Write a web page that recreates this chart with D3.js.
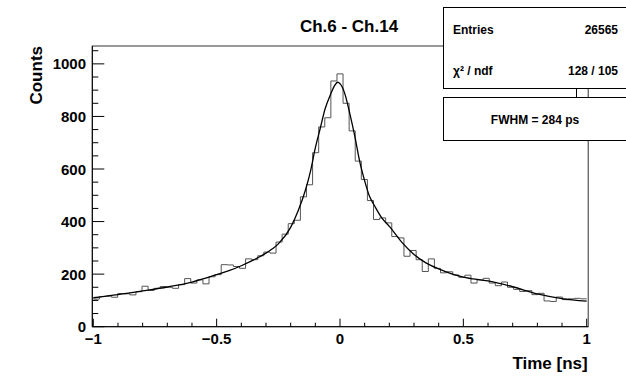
<!DOCTYPE html>
<html lang="en">
    <head>
        <meta charset="utf-8">
        <title>Ch.6 - Ch.14</title>
        <script src="https://d3js.org/d3.v7.min.js"></script>
        <style>
          body { margin: 0; background: #fff; }
          text { font-family: "Liberation Sans", Arial, sans-serif; font-weight: bold; fill: #000; }
        </style>
    </head>
    <body>
        <script type="text/javascript">
          // histogram: 81 bins between -1 and 1 ns, counts
          var binLo = -1
          var binHi = 1
          var counts = [
            105, 115, 116, 112, 126, 125, 121, 133, 154, 138,
            146, 153, 150, 146, 160, 183, 166, 178, 163, 190,
            198, 236, 235, 229, 222, 258, 255, 270, 284, 280,
            322, 352, 392, 405, 494, 540, 662, 760, 795, 935,
            962, 850, 745, 630, 560, 480, 408, 414, 395, 343,
            338, 268, 290, 255, 210, 258, 222, 205, 209, 197,
            188, 196, 166, 178, 184, 166, 156, 170, 150, 142,
            134, 137, 122, 127, 98, 96, 113, 103, 106, 108,
            106
          ]

          // fit curve, sampled by eye
          var fitX = [-1, -0.9, -0.8, -0.7, -0.6, -0.5, -0.45, -0.4, -0.35, -0.3, -0.25, -0.2,
                      -0.17, -0.14, -0.12, -0.1, -0.08, -0.06, -0.04, -0.02, -0.01, 0, 0.01,
                      0.02, 0.04, 0.06, 0.08, 0.1, 0.12, 0.14, 0.17, 0.2, 0.25, 0.3, 0.35,
                      0.4, 0.45, 0.5, 0.6, 0.7, 0.8, 0.9, 1]
          var fitY = [110, 122, 136, 151, 170, 198, 213, 232, 254, 280, 315, 378,
                      440, 520, 590, 680, 755, 830, 880, 920, 930, 925, 910,
                      885, 810, 725, 628, 555, 495, 460, 413, 382, 322, 275, 242,
                      220, 202, 189, 174, 152, 125, 107, 97]

          var xTicks = [-1, -0.5, 0, 0.5, 1]
          var yTicks = [0, 200, 400, 600, 800, 1000]

          var statsRows = [["Entries", "26565"], ["\u03c7\u00b2 / ndf", "128 / 105"]]
          var fwhmText = "FWHM = 284 ps"

          var w = 626
          var h = 376
          // plot frame in pixels
          var fL = 93.3, fR = 586.7, fT = 46, fB = 326.7

          var svg = d3.select("body").append("svg")
            .attr("width", w)
            .attr("height", h)

          var x = d3.scaleLinear().domain([binLo, binHi]).range([fL, fR])
          var y = d3.scaleLinear().domain([0, 1068]).range([fB, fT])

          // frame
          svg.append("rect")
            .attr("x", fL - 1).attr("y", fT)
            .attr("width", fR - fL + 2.5).attr("height", fB - fT)
            .attr("fill", "none").attr("stroke", "#333").attr("stroke-width", 1)

          // histogram outline
          var bw = (binHi - binLo) / counts.length
          var p = d3.path()
          counts.forEach(function (c, i) {
            var x0 = x(binLo + i * bw), x1 = x(binLo + (i + 1) * bw)
            if (i == 0) p.moveTo(x0, y(c))
            else p.lineTo(x0, y(c))
            p.lineTo(x1, y(c))
          })
          svg.append("path")
            .attr("d", p.toString())
            .attr("fill", "none").attr("stroke", "#555").attr("stroke-width", 1)

          // fit
          var line = d3.line()
            .x(function (d) { return x(d[0]) })
            .y(function (d) { return y(d[1]) })
            .curve(d3.curveMonotoneX)
          svg.append("path")
            .attr("d", line(d3.zip(fitX, fitY)))
            .attr("fill", "none").attr("stroke", "#000").attr("stroke-width", 1.3)

          // x axis (ticks point inward, like ROOT)
          var xAxis = svg.append("g")
          xAxis.append("line")
            .attr("x1", fL - 1).attr("x2", fR + 1.5)
            .attr("y1", fB).attr("y2", fB)
            .attr("stroke", "#000")
          d3.range(-1, 1.0001, 0.1).forEach(function (t) {
            var major = Math.abs(t * 2 - Math.round(t * 2)) < 1e-6
            xAxis.append("line")
              .attr("x1", x(t)).attr("x2", x(t))
              .attr("y1", fB).attr("y2", fB - (major ? 8 : 4))
              .attr("stroke", "#000")
          })
          xAxis.selectAll("text.xl").data(xTicks).enter().append("text")
            .attr("x", function (d) { return x(d) })
            .attr("y", 344)
            .attr("text-anchor", "middle")
            .attr("font-size", 15)
            .text(function (d) { return d3.format("")(d) })

          // y axis
          var yAxis = svg.append("g")
          yAxis.append("line")
            .attr("x1", fL - 1).attr("x2", fL - 1)
            .attr("y1", fT).attr("y2", fB)
            .attr("stroke", "#000")
          d3.range(0, 1051, 50).forEach(function (t) {
            var major = t % 200 == 0
            yAxis.append("line")
              .attr("x1", fL - 1).attr("x2", fL - 1 + (major ? 12 : 6))
              .attr("y1", y(t)).attr("y2", y(t))
              .attr("stroke", "#000")
          })
          yAxis.selectAll("text.yl").data(yTicks).enter().append("text")
            .attr("x", 86)
            .attr("y", function (d) { return y(d) + 5.5 })
            .attr("text-anchor", "end")
            .attr("font-size", 15)
            .text(function (d) { return d })

          // axis titles
          svg.append("text")
            .attr("transform", "translate(42," + fT + ") rotate(-90)")
            .attr("text-anchor", "end")
            .attr("font-size", 17)
            .text("Counts")
          svg.append("text")
            .attr("x", fR + 1).attr("y", 369)
            .attr("text-anchor", "end")
            .attr("font-size", 17)
            .text("Time [ns]")

          // title
          svg.append("text")
            .attr("x", 349).attr("y", 32)
            .attr("text-anchor", "middle")
            .attr("font-size", 17)
            .text("Ch.6 - Ch.14")

          // stats box
          svg.append("rect")
            .attr("x", 443.5).attr("y", 7.5).attr("width", 200).attr("height", 81)
            .attr("fill", "#fff").attr("stroke", "#000")
          statsRows.forEach(function (r, i) {
            var ty = 34 + i * 41
            svg.append("text").attr("x", 453).attr("y", ty)
              .attr("font-size", 12).text(r[0])
            svg.append("text").attr("x", 618).attr("y", ty)
              .attr("text-anchor", "end").attr("font-size", 12).text(r[1])
          })
          svg.append("line")
            .attr("x1", 576.5).attr("x2", 576.5).attr("y1", 88).attr("y2", 97)
            .attr("stroke", "#000")
          svg.append("rect")
            .attr("x", 443.5).attr("y", 97.5).attr("width", 200).attr("height", 43)
            .attr("fill", "#fff").attr("stroke", "#000")
          svg.append("text")
            .attr("x", 535).attr("y", 124)
            .attr("text-anchor", "middle").attr("font-size", 12)
            .text(fwhmText)
        </script>
    </body>
</html>
